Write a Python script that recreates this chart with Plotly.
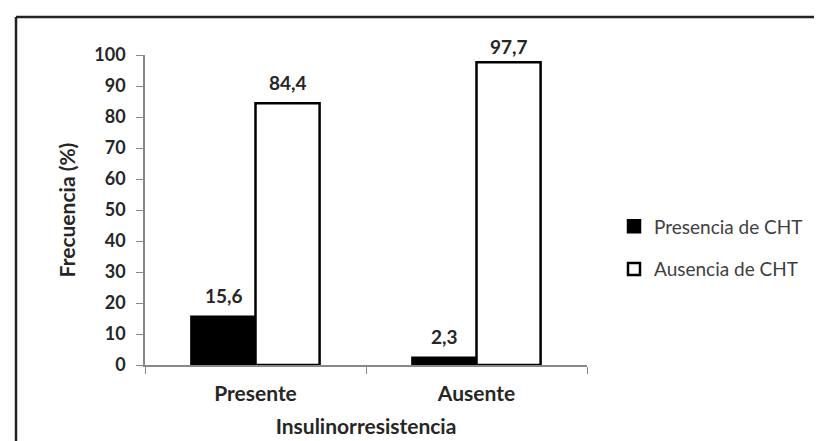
import plotly.graph_objects as go

categories = ["Presente", "Ausente"]
presencia = [15.6, 2.3]
ausencia = [84.4, 97.7]
labels_presencia = ["15,6", "2,3"]
labels_ausencia = ["84,4", "97,7"]
y_ticks = list(range(0, 101, 10))

W, H = 822, 441
L, R, T, B = 137, 243, 47, 84
pw, ph = W - L - R, H - T - B

def px_x(x):
    return (x - L) / pw

def px_y(y):
    return (H - B - y) / ph

FONT = "Lato"
TXT = "#262626"

fig = go.Figure()
fig.add_trace(go.Bar(
    x=categories, y=presencia, name="Presencia de CHT",
    marker=dict(color="black", line=dict(color="black", width=2.5)),
    legendgroup="a",
))
fig.add_trace(go.Bar(
    x=categories, y=ausencia, name="Ausencia de CHT",
    marker=dict(color="white", line=dict(color="black", width=2.5)),
    legendgroup="b",
))

# value labels
for trace_idx, (vals, labs) in enumerate([(presencia, labels_presencia), (ausencia, labels_ausencia)]):
    for i, (v, lab) in enumerate(zip(vals, labs)):
        fig.add_annotation(
            x=categories[i], y=v, text=lab, showarrow=False,
            xshift=-32 if trace_idx == 0 else 32, yshift=21 if v < 95 else 16,
            font=dict(family=FONT, size=19, color=TXT, weight="bold"),
            yanchor="middle",
        )

# outer frame lines (top and left)
fig.add_shape(type="line", xref="paper", yref="paper",
              x0=px_x(8), x1=px_x(W + 5), y0=px_y(9), y1=px_y(9),
              line=dict(color="#222", width=2.5))
fig.add_shape(type="line", xref="paper", yref="paper",
              x0=px_x(8), x1=px_x(8), y0=px_y(9), y1=px_y(H + 5),
              line=dict(color="#222", width=2.5))

fig.update_layout(
    width=W, height=H,
    margin=dict(l=L, r=R, t=T, b=B, autoexpand=False),
    paper_bgcolor="white", plot_bgcolor="white",
    barmode="group", bargap=0.42, bargroupgap=0,
    font=dict(family=FONT, color=TXT),
    showlegend=True,
    legend=dict(
        x=px_x(606), y=px_y(240), xanchor="left", yanchor="middle",
        font=dict(family=FONT, size=19, color="#404040"),
        tracegroupgap=15, traceorder="grouped",
        bgcolor="rgba(0,0,0,0)",
    ),
    xaxis=dict(
        showline=True, linecolor="#888", linewidth=1.5,
        ticks="outside", tickson="boundaries", ticklen=7, tickcolor="#888",
        ticklabelstandoff=9,
        tickfont=dict(family=FONT, size=21, color=TXT, weight="bold"),
        title=dict(text="Insulinorresistencia", standoff=15,
                   font=dict(family=FONT, size=21, color=TXT, weight="bold")),
        showgrid=False,
    ),
    yaxis=dict(
        range=[0, 100], tickvals=y_ticks,
        showline=True, linecolor="#888", linewidth=1.5,
        ticks="outside", ticklen=7, tickcolor="#888",
        ticklabelstandoff=7,
        tickfont=dict(family=FONT, size=18, color=TXT, weight="bold"),
        title=dict(text="Frecuencia (%)", standoff=13,
                   font=dict(family=FONT, size=21, color=TXT, weight="bold")),
        showgrid=False, zeroline=False,
    ),
)

fig.write_html("out.html")
